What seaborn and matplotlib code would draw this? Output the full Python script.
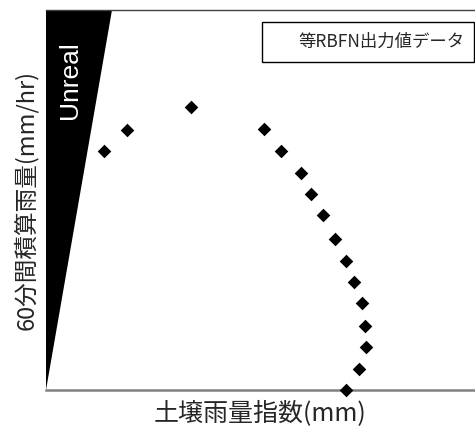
import matplotlib
import matplotlib.pyplot as plt
import numpy as np
import pandas as pd
import seaborn as sns
from matplotlib.patches import Polygon, Rectangle

sns.set_style('white')
plt.rcParams['font.family'] = ['Noto Sans CJK JP', 'DejaVu Sans']

# 土壌雨量指数 / 60分間積算雨量 (目盛なし、読み取り値)
soil_index = [40.6, 56.6, 101.4, 152.4, 164.3, 178.3, 185.3, 193.7,
              202.1, 209.8, 215.4, 221.0, 223.1, 223.8, 218.9, 209.8]
rain_60min = [62.9, 68.4, 74.5, 68.7, 62.9, 57.1, 51.6, 46.1,
              39.7, 33.9, 28.4, 22.9, 16.8, 11.3, 5.5, 0.0]
unreal_top_x = 46.2
x_max, y_max = 300, 100

df = pd.DataFrame({'soil': soil_index, 'rain': rain_60min})

fig = plt.figure(figsize=(4.75, 4.32), dpi=100)
ax = fig.add_axes([46 / 475, 42 / 432, 1 - 46 / 475, 380 / 432])

# Unreal 領域
ax.add_patch(Polygon([(0, 0), (0, y_max), (unreal_top_x, y_max)],
                     closed=True, facecolor='black', edgecolor='none', zorder=1))
ax.text(16.5, 81.5, 'Unreal', rotation=90, color='white', ha='center', va='center',
        fontsize=19, family=['Liberation Sans', 'DejaVu Sans'], zorder=2)

sns.scatterplot(data=df, x='soil', y='rain', marker='D', color='black',
                s=48, linewidth=0, ax=ax, zorder=3, clip_on=False)

ax.set_xlim(0, x_max)
ax.set_ylim(0, y_max)
ax.set_xticks([])
ax.set_yticks([])
ax.spines['left'].set_visible(False)
ax.spines['right'].set_visible(False)
ax.spines['top'].set_color('#404040')
ax.spines['top'].set_linewidth(1.0)
ax.spines['bottom'].set_color('#808080')
ax.spines['bottom'].set_linewidth(1.8)

# 凡例ボックス
ax.add_patch(Rectangle((0.503, 0.863), 0.494, 0.105, transform=ax.transAxes,
                       facecolor='white', edgecolor='black', linewidth=1.0, zorder=4))
ax.text(0.975, 0.915, '等RBFN出力値データ', transform=ax.transAxes,
        ha='right', va='center', fontsize=12.5, zorder=5)

ax.set_xlabel('土壌雨量指数(mm)', fontsize=18, labelpad=7)
ax.set_ylabel('60分間積算雨量(mm/hr)', fontsize=17, labelpad=6)

fig.savefig('out.png', dpi=100)
